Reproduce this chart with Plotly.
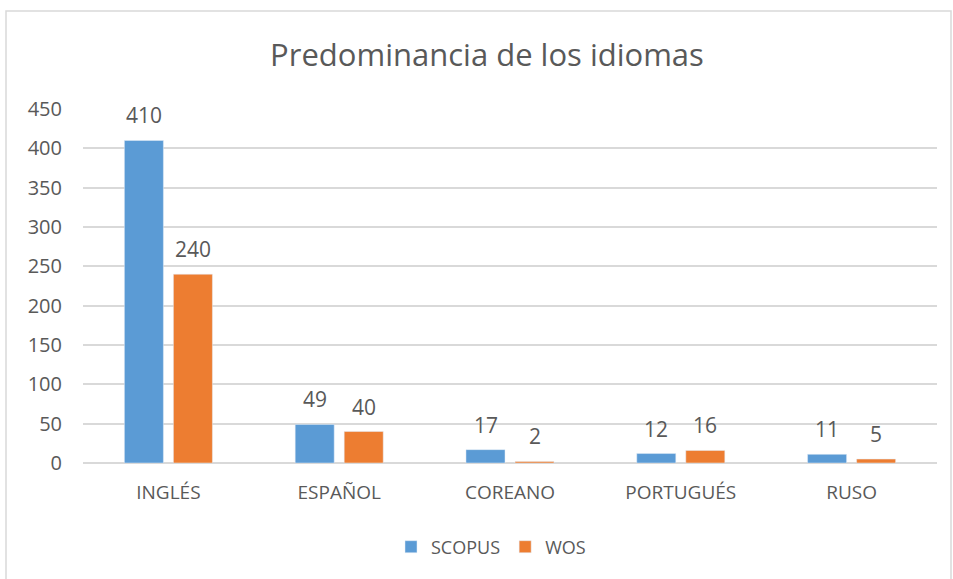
import plotly.graph_objects as go

categories = ["INGLÉS", "ESPAÑOL", "COREANO", "PORTUGUÉS", "RUSO"]
scopus = [410, 49, 17, 12, 11]
wos = [240, 40, 2, 16, 5]
y_ticks = [0, 50, 100, 150, 200, 250, 300, 350, 400, 450]

W, H = 953, 579
L, R, T, B = 83, 16, 109, 116
pw, ph = W - L - R, H - T - B

def px_x(x):
    return (x - L) / pw

def px_y(y):
    return (H - B - y) / ph

txt = "#595959"
font = "Open Sans, Liberation Sans, sans-serif"

fig = go.Figure()
fig.add_trace(go.Bar(name="SCOPUS", x=categories, y=scopus, marker_color="#5B9BD5"))
fig.add_trace(go.Bar(name="WOS", x=categories, y=wos, marker_color="#ED7D31"))

annotations = []
for series, shift in ((scopus, -24.5), (wos, 24.5)):
    for c, v in zip(categories, series):
        annotations.append(dict(x=c, y=v, xref="x", yref="y", text=str(v), showarrow=False,
                                xshift=shift, yshift=25, yanchor="middle",
                                font=dict(size=21, color=txt, family=font)))

fig.update_layout(
    width=W, height=H,
    margin=dict(l=L, r=R, t=T, b=B),
    paper_bgcolor="white", plot_bgcolor="white",
    barmode="group", bargap=0.426, bargroupgap=0.204,
    font=dict(family=font, color=txt),
    title=dict(text="Predominancia de los idiomas", x=px_x(487), xref="paper", xanchor="center",
               y=1 - 55 / H, yanchor="middle",
               font=dict(size=31, color=txt, family=font)),
    showlegend=True,
    legend=dict(orientation="h", x=px_x(491), xanchor="center", y=px_y(547), yanchor="middle",
                font=dict(size=18, color=txt, family=font), itemwidth=30, traceorder="normal"),
    xaxis=dict(showgrid=False, showline=False, ticks="", ticklabelstandoff=16,
               tickfont=dict(size=19, color=txt, family=font)),
    yaxis=dict(range=[0, 450], tickvals=y_ticks, showgrid=True, gridcolor="#D9D9D9",
               gridwidth=1.5, zeroline=True, zerolinecolor="#D9D9D9", zerolinewidth=1.5,
               showline=False, ticks="", ticklen=0, ticklabelstandoff=20,
               tickfont=dict(size=20, color=txt, family=font)),
    annotations=annotations,
    shapes=[dict(type="rect", xref="paper", yref="paper",
                 x0=px_x(6), x1=px_x(951), y0=px_y(600), y1=px_y(11),
                 line=dict(color="#D9D9D9", width=1.5), fillcolor="rgba(0,0,0,0)", layer="below")],
)

fig.write_html("out.html", config={"displayModeBar": False})
with open("out.html", encoding="utf-8") as f:
    html = f.read()
html = html.replace("<head>", "<head><style>html,body{margin:0;padding:0;overflow:hidden;}</style>", 1)
with open("out.html", "w", encoding="utf-8") as f:
    f.write(html)
